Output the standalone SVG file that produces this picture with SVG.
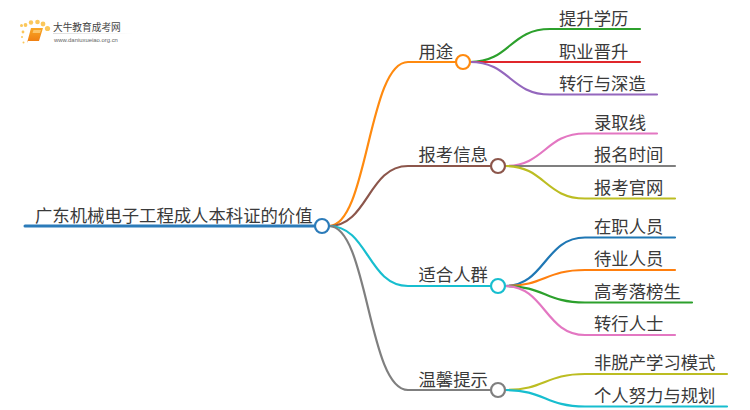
<svg xmlns="http://www.w3.org/2000/svg" width="750" height="410" viewBox="0 0 750 410">
<defs><linearGradient id="lg" x1="0" x2="1" y1="0" y2="0"><stop offset="0" stop-color="#ddd"/><stop offset="1" stop-color="#fff"/></linearGradient>
<linearGradient id="bk" x1="0" x2="0" y1="0" y2="1"><stop offset="0" stop-color="#f9a825"/><stop offset="1" stop-color="#ee7a10"/></linearGradient></defs>
<style>
text{font-family:"Noto Sans CJK SC","Liberation Sans",sans-serif;font-size:17.350px;fill:#3a3a3a}
.c{fill:none;stroke-width:2.200;stroke-linecap:round}
.n{fill:#fff;stroke-width:2.200}
</style>
<rect width="750" height="410" fill="#fff"/>
<g id="logo">
<g fill="#fbc75a"><circle cx="23" cy="32" r="1.400"/><circle cx="21.500" cy="25.500" r="1.500"/><circle cx="25.500" cy="25" r="1.900"/><circle cx="31" cy="22.500" r="2.200"/><circle cx="37.500" cy="22" r="2.300"/><circle cx="43" cy="24" r="2.400"/><circle cx="47.500" cy="28.500" r="2.600"/><circle cx="22" cy="37" r="1"/><circle cx="23.500" cy="42.500" r="1"/></g>
<path d="M31 28H43L39 41H28L27 43Z" fill="url(#bk)"/><path d="M33.500 30H41L40 33H32.500Z" fill="#fcc66a"/>
<text x="53" y="31" style="font-size:9.700px;fill:#444">大牛教育成考网</text>
<rect x="53" y="33" width="80" height="1" fill="url(#lg)"/>
<text x="54" y="41.500" style="font-size:5.900px;font-family:'Liberation Sans',sans-serif;fill:#666">www.daniuxueiao.org.cn</text>
</g>
<g id="connectors">
<path class="c" style="stroke-width:3" stroke="#2b7bb9" d="M25 226H322"/>
<path class="c" stroke="#ff8a0f" d="M329 226C368 226 368 62 408 62H463"/>
<path class="c" stroke="#8c564b" d="M329 226C368 226 368 166 408 166H498"/>
<path class="c" stroke="#17becf" d="M329 226C368 226 368 286 408 286H498"/>
<path class="c" stroke="#7f7f7f" d="M329 226C368 226 368 390 408 390H498"/>
<path class="c" stroke="#2ca02c" d="M470 62C510 62 510 29 550 29H640"/>
<path class="c" stroke="#e0262b" d="M470 62H640"/>
<path class="c" stroke="#9467bd" d="M470 62C510 62 510 94.500 550 94.500H657"/>
<path class="c" stroke="#e377c2" d="M505 166C545 166 545 133.500 585 133.500H657"/>
<path class="c" stroke="#7f7f7f" d="M505 166H675"/>
<path class="c" stroke="#bcbd22" d="M505 166C545 166 545 198.500 585 198.500H675"/>
<path class="c" stroke="#1f77b4" d="M505 286C545 286 545 237.500 585 237.500H675"/>
<path class="c" stroke="#ff7f0e" d="M505 286C545 286 545 270 585 270H675"/>
<path class="c" stroke="#2ca02c" d="M505 286C545 286 545 302.500 585 302.500H692"/>
<path class="c" stroke="#e377c2" d="M505 286C545 286 545 335 585 335H675"/>
<path class="c" stroke="#bcbd22" d="M505 390C545 390 545 374 585 374H727"/>
<path class="c" stroke="#17becf" d="M505 390C545 390 545 406.500 585 406.500H727"/>
</g>
<g id="root"><circle class="n" stroke="#2b7bb9" cx="322" cy="226" r="7"/><text x="35" y="222">广东机械电子工程成人本科证的价值</text></g>
<g id="n1"><circle class="n" stroke="#ff8a0f" cx="463" cy="62" r="7"/><text x="418.500" y="58">用途</text></g>
<g id="n2"><circle class="n" stroke="#8c564b" cx="498" cy="166" r="7"/><text x="418.500" y="161">报考信息</text></g>
<g id="n3"><circle class="n" stroke="#17becf" cx="498" cy="286" r="7"/><text x="418.500" y="281">适合人群</text></g>
<g id="n4"><circle class="n" stroke="#7f7f7f" cx="498" cy="390" r="7"/><text x="418.500" y="386">温馨提示</text></g>
<g id="l1"><text x="559" y="25">提升学历</text></g>
<g id="l2"><text x="559" y="58">职业晋升</text></g>
<g id="l3"><text x="559" y="90">转行与深造</text></g>
<g id="l4"><text x="594" y="129">录取线</text></g>
<g id="l5"><text x="594" y="161">报名时间</text></g>
<g id="l6"><text x="594" y="194">报考官网</text></g>
<g id="l7"><text x="594" y="233">在职人员</text></g>
<g id="l8"><text x="594" y="265">待业人员</text></g>
<g id="l9"><text x="594" y="298">高考落榜生</text></g>
<g id="l10"><text x="594" y="330">转行人士</text></g>
<g id="l11"><text x="594" y="369">非脱产学习模式</text></g>
<g id="l12"><text x="594" y="402">个人努力与规划</text></g>
</svg>
